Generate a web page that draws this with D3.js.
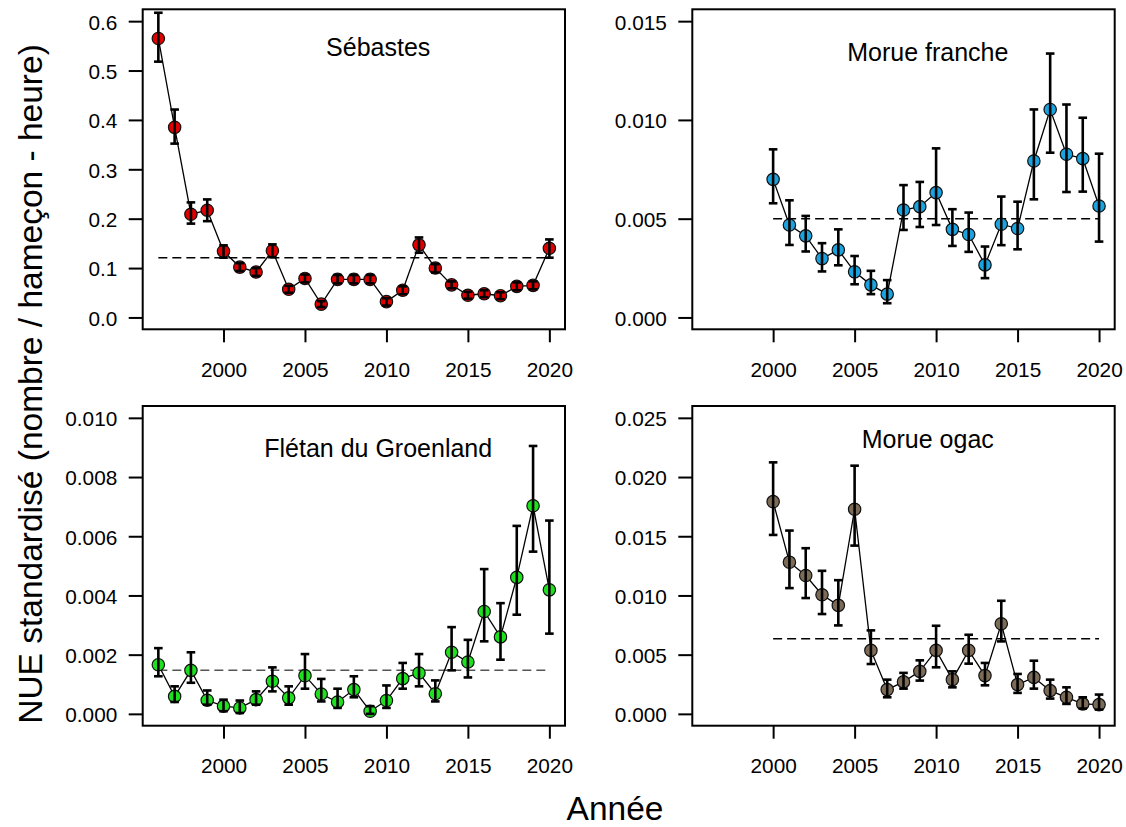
<!DOCTYPE html>
<html>
<head>
<meta charset="utf-8">
<script src="https://cdn.jsdelivr.net/npm/d3@7"></script>
<style>
  body { margin: 0; background: #fff; }
  svg { display: block; font-family: "Liberation Sans", Arial, sans-serif; }
</style>
</head>
<body>
<div id="chart"></div>
<script>
// ---- data ----
var yearsFrom1996 = [1996, 1997, 1998, 1999, 2000, 2001, 2002, 2003, 2004, 2005, 2006, 2007, 2008,
                     2009, 2010, 2011, 2012, 2013, 2014, 2015, 2016, 2017, 2018, 2019, 2020];
var yearsFrom2000 = [2000, 2001, 2002, 2003, 2004, 2005, 2006, 2007, 2008, 2009, 2010,
                     2011, 2012, 2013, 2014, 2015, 2016, 2017, 2018, 2019, 2020];

var sebastesValues = [0.565, 0.385, 0.209, 0.217, 0.134, 0.102, 0.092, 0.135, 0.057, 0.079, 0.027, 0.077, 0.077,
                      0.077, 0.032, 0.055, 0.147, 0.100, 0.066, 0.045, 0.048, 0.044, 0.063, 0.065, 0.140];
var sebastesLow    = [0.518, 0.352, 0.190, 0.195, 0.121, 0.094, 0.084, 0.122, 0.050, 0.071, 0.021, 0.069, 0.069,
                      0.069, 0.024, 0.047, 0.131, 0.091, 0.059, 0.038, 0.041, 0.037, 0.055, 0.057, 0.121];
var sebastesHigh   = [0.617, 0.421, 0.233, 0.239, 0.146, 0.110, 0.100, 0.148, 0.064, 0.087, 0.033, 0.086, 0.086,
                      0.086, 0.039, 0.063, 0.162, 0.108, 0.073, 0.052, 0.055, 0.051, 0.071, 0.073, 0.158];
var sebastesMean = 0.121;

var morueValues = [0.00699, 0.00468, 0.00413, 0.00298, 0.00342, 0.00231, 0.00165, 0.00118, 0.00544, 0.00561, 0.00632,
                   0.00446, 0.00420, 0.00266, 0.00472, 0.00450, 0.00792, 0.01053, 0.00826, 0.00804, 0.00564];
var morueLow    = [0.00578, 0.00367, 0.00334, 0.00233, 0.00264, 0.00168, 0.00118, 0.00072, 0.00443, 0.00458, 0.00468,
                   0.00362, 0.00332, 0.00199, 0.00366, 0.00345, 0.00598, 0.00834, 0.00635, 0.00637, 0.00384];
var morueHigh   = [0.00851, 0.00593, 0.00514, 0.00376, 0.00446, 0.00311, 0.00236, 0.00189, 0.00670, 0.00686, 0.00856,
                   0.00548, 0.00531, 0.00359, 0.00612, 0.00586, 0.01053, 0.01336, 0.01078, 0.01011, 0.00829];
var morueMean = 0.0050;

var fletanValues = [0.00166, 0.00059, 0.00147, 0.00046, 0.00026, 0.00020, 0.00048, 0.00110, 0.00054, 0.00129, 0.00067, 0.00040, 0.00082,
                    0.00009, 0.00045, 0.00119, 0.00138, 0.00068, 0.00208, 0.00175, 0.00346, 0.00260, 0.00461, 0.00703, 0.00419];
var fletanLow    = [0.00127, 0.00040, 0.00105, 0.00031, 0.00009, 0.00003, 0.00031, 0.00076, 0.00031, 0.00085, 0.00042, 0.00020, 0.00056,
                    0.00000, 0.00020, 0.00085, 0.00093, 0.00042, 0.00147, 0.00123, 0.00245, 0.00183, 0.00335, 0.00548, 0.00271];
var fletanHigh   = [0.00222, 0.00093, 0.00208, 0.00079, 0.00048, 0.00045, 0.00076, 0.00157, 0.00093, 0.00202, 0.00118, 0.00085, 0.00127,
                    0.00026, 0.00096, 0.00172, 0.00202, 0.00113, 0.00293, 0.00250, 0.00489, 0.00374, 0.00635, 0.00905, 0.00653];
var fletanMean = 0.00147;

var ogacValues = [0.01792, 0.01281, 0.01168, 0.01006, 0.00916, 0.01728, 0.00536, 0.00205, 0.00270, 0.00359, 0.00536,
                  0.00289, 0.00536, 0.00323, 0.00761, 0.00247, 0.00308, 0.00196, 0.00140, 0.00084, 0.00078];
var ogacLow    = [0.01511, 0.01062, 0.00978, 0.00843, 0.00747, 0.01421, 0.00421, 0.00140, 0.00213, 0.00281, 0.00393,
                  0.00224, 0.00424, 0.00241, 0.00612, 0.00177, 0.00213, 0.00129, 0.00084, 0.00045, 0.00036];
var ogacHigh   = [0.02124, 0.01548, 0.01399, 0.01208, 0.01129, 0.02096, 0.00705, 0.00289, 0.00346, 0.00452, 0.00744,
                  0.00359, 0.00668, 0.00430, 0.00955, 0.00337, 0.00449, 0.00289, 0.00224, 0.00140, 0.00163];
var ogacMean = 0.00635;

// tick values and labels
var xTicks = [2000, 2005, 2010, 2015, 2020];
var xTickLabels = ['2000', '2005', '2010', '2015', '2020'];
var sebastesTicks = [0, 0.1, 0.2, 0.3, 0.4, 0.5, 0.6];
var sebastesTickLabels = ['0.0', '0.1', '0.2', '0.3', '0.4', '0.5', '0.6'];
var morueTicks = [0, 0.005, 0.010, 0.015];
var morueTickLabels = ['0.000', '0.005', '0.010', '0.015'];
var fletanTicks = [0, 0.002, 0.004, 0.006, 0.008, 0.010];
var fletanTickLabels = ['0.000', '0.002', '0.004', '0.006', '0.008', '0.010'];
var ogacTicks = [0, 0.005, 0.010, 0.015, 0.020, 0.025];
var ogacTickLabels = ['0.000', '0.005', '0.010', '0.015', '0.020', '0.025'];

var yTitle = 'NUE standardisé (nombre / hameçon - heure)';
var xTitle = 'Année';

// ---- layout ----
var width = 1126, height = 827;
var cols = [{left: 142.7, right: 565}, {left: 692.3, right: 1114.7}];
var rows = [{top: 9.3, bottom: 329.3}, {top: 406, bottom: 725.7}];
var tickFont = 20.8;

// R style axis range: data range expanded by 4% each side
function rRange(lim) {
    var r = (lim[1] - lim[0]) * 0.04;
    return [lim[0] - r, lim[1] + r];
}

function zip(years, vals, lo, hi) {
    return years.map(function (yr, i) {
        return {year: yr, value: vals[i], low: lo[i], high: hi[i]};
    });
}

var panels = [
    {col: 0, row: 0, title: 'Sébastes', titleDx: 235.5, titleDy: 46.7, ylim: [0, 0.6],
     data: zip(yearsFrom1996, sebastesValues, sebastesLow, sebastesHigh), mean: sebastesMean,
     ticks: sebastesTicks, tickLabels: sebastesTickLabels, fill: '#e00000', dash: '#000'},
    {col: 1, row: 0, title: 'Morue franche', titleDx: 235.5, titleDy: 51.7, ylim: [0, 0.015],
     data: zip(yearsFrom2000, morueValues, morueLow, morueHigh), mean: morueMean,
     ticks: morueTicks, tickLabels: morueTickLabels, fill: '#1ba3e0', dash: '#000'},
    {col: 0, row: 1, title: 'Flétan du Groenland', titleDx: 235.5, titleDy: 51.3, ylim: [0, 0.010],
     data: zip(yearsFrom1996, fletanValues, fletanLow, fletanHigh), mean: fletanMean,
     ticks: fletanTicks, tickLabels: fletanTickLabels, fill: '#1fe01f', dash: '#555'},
    {col: 1, row: 1, title: 'Morue ogac', titleDx: 235.5, titleDy: 42.3, ylim: [0, 0.025],
     data: zip(yearsFrom2000, ogacValues, ogacLow, ogacHigh), mean: ogacMean,
     ticks: ogacTicks, tickLabels: ogacTickLabels, fill: '#7c6c57', dash: '#000'}
];

var svg = d3.select('#chart')
    .append('svg')
    .attr('width', width)
    .attr('height', height);

svg.append('rect').attr('width', width).attr('height', height).attr('fill', '#fff');

function drawPanel(p) {
    var left = cols[p.col].left, right = cols[p.col].right;
    var top = rows[p.row].top, bottom = rows[p.row].bottom;

    var x = d3.scaleLinear().domain(rRange([1996, 2020])).range([left, right]);
    var y = d3.scaleLinear().domain(rRange(p.ylim)).range([bottom, top]);

    var g = svg.append('g');
    var first = p.data[0], last = p.data[p.data.length - 1];

    // long-term mean, dashed
    g.append('line')
        .attr('x1', x(first.year)).attr('x2', x(last.year))
        .attr('y1', y(p.mean)).attr('y2', y(p.mean))
        .attr('stroke', p.dash)
        .attr('stroke-width', 1.5)
        .attr('stroke-dasharray', '9,5');

    // series line
    var line = d3.line()
        .x(function (d) { return x(d.year); })
        .y(function (d) { return y(d.value); });

    g.append('path')
        .datum(p.data)
        .attr('fill', 'none')
        .attr('stroke', '#000')
        .attr('stroke-width', 1.3)
        .attr('d', line);

    // points
    g.selectAll('circle')
        .data(p.data)
        .enter().append('circle')
        .attr('cx', function (d) { return x(d.year); })
        .attr('cy', function (d) { return y(d.value); })
        .attr('r', 6.2)
        .attr('fill', p.fill)
        .attr('stroke', '#111')
        .attr('stroke-width', 1.2);

    // error bars on top of the points
    var bars = g.selectAll('g.err')
        .data(p.data)
        .enter().append('g')
        .attr('class', 'err')
        .attr('stroke', '#000')
        .attr('stroke-width', 2.6);

    bars.append('line')
        .attr('x1', function (d) { return x(d.year); })
        .attr('x2', function (d) { return x(d.year); })
        .attr('y1', function (d) { return y(d.low); })
        .attr('y2', function (d) { return y(d.high); });
    bars.append('line')
        .attr('x1', function (d) { return x(d.year) - 4.3; })
        .attr('x2', function (d) { return x(d.year) + 4.3; })
        .attr('y1', function (d) { return y(d.low); })
        .attr('y2', function (d) { return y(d.low); });
    bars.append('line')
        .attr('x1', function (d) { return x(d.year) - 4.3; })
        .attr('x2', function (d) { return x(d.year) + 4.3; })
        .attr('y1', function (d) { return y(d.high); })
        .attr('y2', function (d) { return y(d.high); });

    // axes
    var xAxis = g.append('g')
        .attr('transform', 'translate(0,' + bottom + ')')
        .call(d3.axisBottom(x)
            .tickValues(xTicks)
            .tickFormat(function (d, i) { return xTickLabels[i]; })
            .tickSize(13)
            .tickPadding(19.5));

    var yAxis = g.append('g')
        .attr('transform', 'translate(' + left + ',0)')
        .call(d3.axisLeft(y)
            .tickValues(p.ticks)
            .tickFormat(function (d, i) { return p.tickLabels[i]; })
            .tickSize(14)
            .tickPadding(11.4));

    [xAxis, yAxis].forEach(function (a) {
        a.select('.domain').remove();
        a.selectAll('line').attr('stroke', '#000').attr('stroke-width', 2);
        a.selectAll('text')
            .attr('fill', '#000')
            .style('font-size', tickFont + 'px')
            .style('font-family', '"Liberation Sans", Arial, sans-serif');
    });
    yAxis.selectAll('text').attr('dy', '0.38em');

    // frame
    g.append('rect')
        .attr('x', left).attr('y', top)
        .attr('width', right - left).attr('height', bottom - top)
        .attr('fill', 'none')
        .attr('stroke', '#000')
        .attr('stroke-width', 2);

    // species name
    g.append('text')
        .attr('x', left + p.titleDx)
        .attr('y', top + p.titleDy)
        .attr('text-anchor', 'middle')
        .style('font-size', '25px')
        .attr('fill', '#000')
        .text(p.title);
}

panels.forEach(drawPanel);

// shared axis titles
svg.append('text')
    .attr('transform', 'translate(42,384) rotate(-90)')
    .attr('text-anchor', 'middle')
    .style('font-size', '33.5px')
    .text(yTitle);

svg.append('text')
    .attr('x', 615)
    .attr('y', 820)
    .attr('text-anchor', 'middle')
    .style('font-size', '33.5px')
    .text(xTitle);
</script>
</body>
</html>
